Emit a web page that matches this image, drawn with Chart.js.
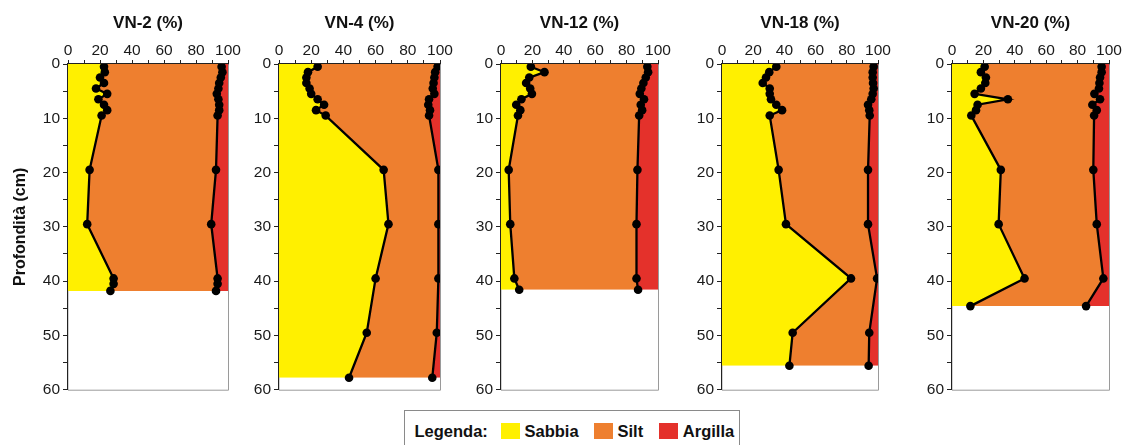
<!DOCTYPE html>
<html>
<head>
<meta charset="utf-8">
<script src="https://cdn.jsdelivr.net/npm/chart.js@4"></script>
<style>
  html, body { margin: 0; padding: 0; background: #fff; width: 1126px; height: 445px; overflow: hidden; }
  canvas { position: absolute; top: 0; }
  #legend { position: absolute; left: 404px; top: 410px; width: 336px; height: 42px;
    border: 1.5px solid #8a8a8a; box-sizing: border-box; font-family: 'Liberation Sans', Arial, sans-serif;
    font-weight: bold; font-size: 16.5px; color: #111; }
  #legend span { position: absolute; top: 10.4px; line-height: 20px; white-space: nowrap; }
  #legend i { position: absolute; top: 11.8px; width: 19px; height: 16px; }
</style>
</head>
<body>
<canvas id="c0"></canvas>
<canvas id="c1"></canvas>
<canvas id="c2"></canvas>
<canvas id="c3"></canvas>
<canvas id="c4"></canvas>
<div id="legend">
  <span style="left:9.5px">Legenda:</span>
  <i id="sw0" style="left:95.5px"></i><span id="lb0" style="left:119.5px"></span>
  <i id="sw1" style="left:188.8px"></i><span id="lb1" style="left:212.5px"></span>
  <i id="sw2" style="left:253.8px"></i><span id="lb2" style="left:277.8px"></span>
</div>
<script>
// ---- Data ----
const panelNames = ['VN-2 (%)', 'VN-4 (%)', 'VN-12 (%)', 'VN-18 (%)', 'VN-20 (%)'];
const legendLabels = ['Sabbia', 'Silt', 'Argilla'];
const xTicks = [0, 20, 40, 60, 80, 100];
const yTicks = [0, 10, 20, 30, 40, 50, 60];

// depth (cm), sand (%), sand+silt (%) cumulative
const vn2Depth    = [0.5, 1.5, 2.5, 3.5, 4.5, 5.5, 6.5, 7.5, 8.5, 9.5, 19.5, 29.5, 39.5, 40.5, 41.8];
const vn2Sand     = [22.5, 23, 20, 22.5, 17.5, 24.5, 19, 22.5, 24.5, 21, 13.5, 12, 28.5, 28.5, 26.5];
const vn2SandSilt = [96, 96.5, 95.5, 94.5, 94, 93, 94, 94.5, 94.5, 93.5, 92.5, 89.5, 93.5, 93.5, 92.5];

const vn4Depth    = [0.5, 1.5, 2.5, 3.5, 4.5, 5.5, 6.5, 7.5, 8.5, 9.5, 19.5, 29.5, 39.5, 49.5, 57.8];
const vn4Sand     = [24, 18, 17, 17, 19, 20, 24, 28, 23, 29, 65, 68, 60, 54.5, 43.5];
const vn4SandSilt = [98.5, 97, 96.5, 96, 95.5, 96.5, 93.2, 92.7, 93.8, 93.2, 99, 99, 99, 98, 95.2];

const vn12Depth    = [0.5, 1.5, 2.5, 3.5, 4.5, 5.5, 6.5, 7.5, 8.5, 9.5, 19.5, 29.5, 39.5, 41.6];
const vn12Sand     = [19, 27.7, 18, 16, 18.6, 19.7, 13, 9.7, 12.3, 10.8, 4.9, 5.9, 8.5, 11.6];
const vn12SandSilt = [93.2, 93.7, 92.2, 90.7, 89.4, 88.4, 91.1, 89, 89.9, 88, 86.9, 86.3, 86.3, 87.3];

const vn18Depth    = [0.5, 1.5, 2.5, 3.5, 4.5, 5.5, 6.5, 7.5, 8.5, 9.5, 19.5, 29.5, 39.5, 49.5, 55.6];
const vn18Sand     = [34.8, 30.3, 28.2, 26.1, 30.6, 30.6, 31.4, 34.8, 38.5, 30.6, 36.3, 41, 82.7, 45.3, 43.2];
const vn18SandSilt = [97.2, 96.6, 96.6, 96.8, 97.2, 96.6, 95.7, 93.6, 94.4, 94.7, 93.6, 93.6, 99.4, 94.4, 94];

const vn20Depth    = [0.5, 1.5, 2.5, 3.5, 4.5, 5.5, 6.5, 7.5, 8.5, 9.5, 19.5, 29.5, 39.5, 44.6];
const vn20Sand     = [20.8, 18.4, 21.6, 21.2, 18.4, 14.4, 35.6, 16.3, 15.3, 12.3, 31.1, 29.7, 46.2, 11.7];
const vn20SandSilt = [95.3, 95.3, 94.3, 93.9, 93.6, 90.7, 94.3, 89.4, 92.2, 90.5, 90, 92.2, 96.4, 85.4];

// ---- Styling / layout ----
const COLORS = ['#FFF000', '#EE7F2F', '#E4312B']; // sabbia, silt, argilla
const FONT = "'Liberation Sans', Arial, sans-serif";
const panels = [
  { depth: vn2Depth,  sand: vn2Sand,  ss: vn2SandSilt,  left: 0,   yW: 68, plotW: 160, yTitle: 'Profondità (cm)' },
  { depth: vn4Depth,  sand: vn4Sand,  ss: vn4SandSilt,  left: 239, yW: 40, plotW: 161 },
  { depth: vn12Depth, sand: vn12Sand, ss: vn12SandSilt, left: 461, yW: 40, plotW: 157 },
  { depth: vn18Depth, sand: vn18Sand, ss: vn18SandSilt, left: 682, yW: 40, plotW: 156 },
  { depth: vn20Depth, sand: vn20Sand, ss: vn20SandSilt, left: 912, yW: 40, plotW: 157 }
];
const X_AXIS_H = 64, PAD_R = 17, PAD_B = 10, CANVAS_H = 402;

// legend (HTML)
legendLabels.forEach((t, i) => {
  document.getElementById('lb' + i).textContent = t;
  document.getElementById('sw' + i).style.background = COLORS[i];
});

function pts(xs, ys) { return xs.map((v, i) => ({ x: v, y: ys[i] })); }
function fillPts(xs, ys) { return [{ x: xs[0], y: 0 }].concat(pts(xs, ys)); }
function edgePts(ys) { return [{ x: 100, y: 0 }].concat(ys.map(d => ({ x: 100, y: d }))); }

const framePlugin = {
  id: 'frame',
  beforeDraw(chart) {
    const a = chart.chartArea, ctx = chart.ctx;
    ctx.save();
    ctx.strokeStyle = '#9a9a9a';
    ctx.lineWidth = 1;
    ctx.beginPath();
    ctx.moveTo(a.left, a.bottom + 0.5);
    ctx.lineTo(a.right + 0.5, a.bottom + 0.5);
    ctx.lineTo(a.right + 0.5, a.top);
    ctx.stroke();
    ctx.restore();
  }
};

panels.forEach((p, idx) => {
  const cv = document.getElementById('c' + idx);
  cv.width = p.yW + p.plotW + PAD_R;
  cv.height = CANVAS_H;
  cv.style.left = p.left + 'px';

  const lineStyle = {
    borderColor: '#000', borderWidth: 2.3, pointRadius: 4.3, pointBackgroundColor: '#000',
    pointBorderColor: '#000', pointBorderWidth: 0, fill: false, tension: 0
  };
  const fillStyle = { borderWidth: 0, borderColor: 'rgba(0,0,0,0)', pointRadius: 0, tension: 0 };

  new Chart(cv, {
    type: 'line',
    data: {
      datasets: [
        Object.assign({ label: 'Sabbia (linea)', data: pts(p.sand, p.depth) }, lineStyle),
        Object.assign({ label: 'Sabbia+Silt (linea)', data: pts(p.ss, p.depth) }, lineStyle),
        Object.assign({ label: legendLabels[0], data: fillPts(p.sand, p.depth), backgroundColor: COLORS[0], fill: 'origin' }, fillStyle),
        Object.assign({ label: legendLabels[1], data: fillPts(p.ss, p.depth), backgroundColor: COLORS[1], fill: 2 }, fillStyle),
        Object.assign({ label: legendLabels[2], data: edgePts(p.depth), backgroundColor: COLORS[2], fill: 3 }, fillStyle)
      ]
    },
    options: {
      indexAxis: 'y',
      responsive: false,
      animation: false,
      devicePixelRatio: 1,
      layout: { padding: { left: 0, right: PAD_R, top: 0, bottom: PAD_B } },
      plugins: {
        legend: { display: false },
        tooltip: { enabled: false },
        filler: { drawTime: 'beforeDatasetsDraw' }
      },
      scales: {
        x: {
          type: 'linear', position: 'top', min: 0, max: 100,
          afterFit(s) { s.height = X_AXIS_H; },
          border: { display: true, color: '#222', width: 1.2 },
          grid: { display: true, drawOnChartArea: false, drawTicks: true, tickLength: 4, color: '#222', lineWidth: 1 },
          ticks: {
            stepSize: 10, padding: 0, color: '#1a1a1a', maxRotation: 0, autoSkip: false,
            font: { family: FONT, size: 15.5 },
            callback: v => xTicks.includes(v) ? String(v) : ''
          },
          title: {
            display: true, text: panelNames[idx], color: '#111',
            font: { family: FONT, size: 17, weight: 'bold' },
            padding: { top: 13, bottom: 0 }
          }
        },
        y: {
          type: 'linear', position: 'left', min: 0, max: 60, reverse: true,
          afterFit(s) { s.width = p.yW; },
          border: { display: true, color: '#222', width: 1.2 },
          grid: { display: true, drawOnChartArea: false, drawTicks: true, tickLength: 5, color: '#222', lineWidth: 1 },
          ticks: {
            stepSize: 5, padding: 3, color: '#1a1a1a', autoSkip: false,
            font: { family: FONT, size: 15.5 },
            callback: v => yTicks.includes(v) ? String(v) : ''
          },
          title: {
            display: !!p.yTitle, text: p.yTitle || '', color: '#111',
            font: { family: FONT, size: 16, weight: 'bold' },
            padding: { top: 11, bottom: 0 }
          }
        }
      }
    },
    plugins: [framePlugin]
  });
});
</script>
</body>
</html>
